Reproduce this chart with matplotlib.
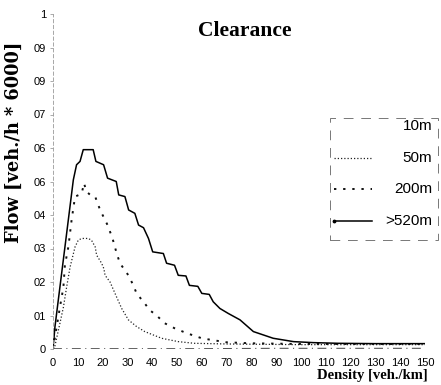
import matplotlib
matplotlib.use("Agg")
import matplotlib.pyplot as plt
from matplotlib.lines import Line2D
from matplotlib.patches import Rectangle
from matplotlib.legend_handler import HandlerLine2D

# ---- data ----
x_ticks = [0, 10, 20, 30, 40, 50, 60, 70, 80, 90, 100, 110, 120, 130, 140, 150]
x_tick_labels = ["0", "10", "20", "30", "40", "50", "60", "70", "80", "90",
                 "100", "110", "120", "130", "140", "150"]
y_ticks = [0, 0.1, 0.2, 0.3, 0.4, 0.5, 0.6, 0.7, 0.8, 0.9, 1.0]
y_tick_labels = ["0", "01", "02", "03", "04", "06", "06", "07", "09", "09", "1"]

d_10m = [0, 30, 60, 90, 120, 150]
f_10m = [0.001, 0.001, 0.001, 0.002, 0.002, 0.002]

d_50m = [0, 0.8, 2.8, 4.2, 5.5, 6.9, 8.9, 10.2, 11.6, 14.2, 15.5, 17, 17.6, 19.6,
         20.5, 21, 23, 25, 27.7, 30.4, 33.7, 37, 43.8, 50.5, 57, 70, 100, 150]
f_50m = [0, 0.01, 0.077, 0.125, 0.185, 0.245, 0.305, 0.325, 0.33, 0.33, 0.325, 0.305,
         0.28, 0.256, 0.24, 0.22, 0.2, 0.166, 0.121, 0.087, 0.067, 0.052, 0.032, 0.022,
         0.017, 0.015, 0.013, 0.013]

d_200m = [0, 1.5, 2.8, 4.2, 4.8, 6.2, 7.5, 8.9, 10.5, 11.6, 12.5, 13.5, 15, 17, 19,
          21, 22, 24, 25.7, 27, 30.4, 32.4, 33.7, 37, 39, 41.8, 45, 49, 54, 60, 64,
          70, 80, 100, 150]
f_200m = [0, 0.067, 0.125, 0.185, 0.25, 0.305, 0.385, 0.455, 0.46, 0.465, 0.495, 0.47,
          0.46, 0.455, 0.415, 0.385, 0.37, 0.33, 0.285, 0.256, 0.22, 0.19, 0.166, 0.136,
          0.116, 0.1, 0.077, 0.062, 0.047, 0.032, 0.027, 0.02, 0.017, 0.015, 0.015]

d_520m = [0, 0.8, 8.2, 9.5, 10.9, 12.2, 16.2, 17.3, 20.4, 22, 25.5, 26.5, 29, 30.5,
          33, 34.5, 36.5, 38.5, 40.2, 44.5, 45.8, 49, 50.5, 53.6, 55, 58.4, 60, 63,
          64.6, 67.3, 70.7, 75.4, 80.8, 88.8, 97, 105, 115, 130, 150]
f_520m = [0, 0.067, 0.505, 0.55, 0.56, 0.595, 0.595, 0.56, 0.55, 0.51, 0.5, 0.46,
          0.455, 0.415, 0.405, 0.37, 0.362, 0.33, 0.29, 0.285, 0.256, 0.25, 0.22, 0.218,
          0.19, 0.187, 0.166, 0.163, 0.141, 0.121, 0.106, 0.087, 0.052, 0.032, 0.022,
          0.019, 0.017, 0.016, 0.016]

labels = ["10m", "50m", "200m", ">520m"]


class LeftDotHandler(HandlerLine2D):
    def create_artists(self, legend, orig_handle, xdescent, ydescent, width,
                       height, fontsize, trans):
        arts = super().create_artists(legend, orig_handle, xdescent, ydescent,
                                      width, height, fontsize, trans)
        for a in arts:
            a.set_markevery([0])
        return arts


# ---- figure ----
W, H = 441, 385
fig = plt.figure(figsize=(W / 100, H / 100), dpi=100)
ax = fig.add_axes([53 / W, 1 - 349 / H, (425 - 53) / W, (349 - 14) / H])

l10, = ax.plot(d_10m, f_10m, color="#555555", lw=0.8, ls=(0, (8, 4, 1, 4)))
l50, = ax.plot(d_50m, f_50m, color="#222222", lw=0.9, ls=(0, (1, 1.6)))
l200, = ax.plot(d_200m, f_200m, color="#111111", lw=1.4, ls=(0, (1.2, 3.5)))
l520, = ax.plot(d_520m, f_520m, color="black", lw=1.1, ls="-")

ax.set_xlim(0, 150)
ax.set_ylim(0, 1)
ax.set_xticks(x_ticks)
ax.set_xticklabels(x_tick_labels)
ax.set_yticks(y_ticks)
ax.set_yticklabels(y_tick_labels)
for lab in ax.get_xticklabels() + ax.get_yticklabels():
    lab.set_fontfamily("Liberation Sans")
    lab.set_fontsize(8)
ax.tick_params(axis="y", length=2, width=0.5, color="#888888", pad=3)
ax.tick_params(axis="x", length=0, pad=6.5)

for s in ["top", "right", "bottom"]:
    ax.spines[s].set_visible(False)
ax.spines["left"].set_linestyle((0, (4, 3)))
ax.spines["left"].set_color("#999999")
ax.spines["left"].set_linewidth(0.6)

fig.text(245 / W, 1 - 31 / H, "Clearance", ha="center", va="center",
         fontfamily="Liberation Serif", fontweight="bold", fontsize=15.5)
fig.text(14 / W, 1 - 142 / H, "Flow [veh./h * 6000]", ha="center", va="center",
         rotation=90, fontfamily="DejaVu Serif", fontweight="bold", fontsize=12.8)
fig.text(428 / W, 1 - 376 / H, "Density [veh./km]", ha="right", va="center",
         fontfamily="Liberation Serif", fontweight="bold", fontsize=10.5)

# legend box (dashed frame)
fig.patches.append(Rectangle((330 / W, 1 - 240 / H), (438 - 330) / W, (240 - 118) / H,
                             transform=fig.transFigure, fill=False,
                             edgecolor="#777777", linewidth=0.7,
                             linestyle=(0, (10, 8))))

h10 = Line2D([], [], color="none")
h520 = Line2D([], [], color="black", lw=1.1, marker=".", markersize=3.5)
handles = [h10, l50, l200, h520]
leg = fig.legend(handles, ["", "", "", ""],
                 loc="upper left", bbox_to_anchor=(334 / W, 1 - 120 / H),
                 bbox_transform=fig.transFigure,
                 prop={"family": "Liberation Sans", "size": 12},
                 handlelength=2.3, handletextpad=0.5, labelspacing=1.0,
                 borderpad=0, borderaxespad=0, frameon=False,
                 handler_map={h520: LeftDotHandler(numpoints=1)})

fig.canvas.draw()
renderer = fig.canvas.get_renderer()
inv = fig.transFigure.inverted()
for hl, lab in zip(leg.get_lines(), labels):
    bb = hl.get_window_extent(renderer)
    yc = (bb.y0 + bb.y1) / 2
    _, yf = inv.transform((0, yc))
    fig.text(432 / W, yf, lab, ha="right", va="center",
             fontfamily="Liberation Sans", fontsize=11)

fig.savefig("out.png", dpi=100)
